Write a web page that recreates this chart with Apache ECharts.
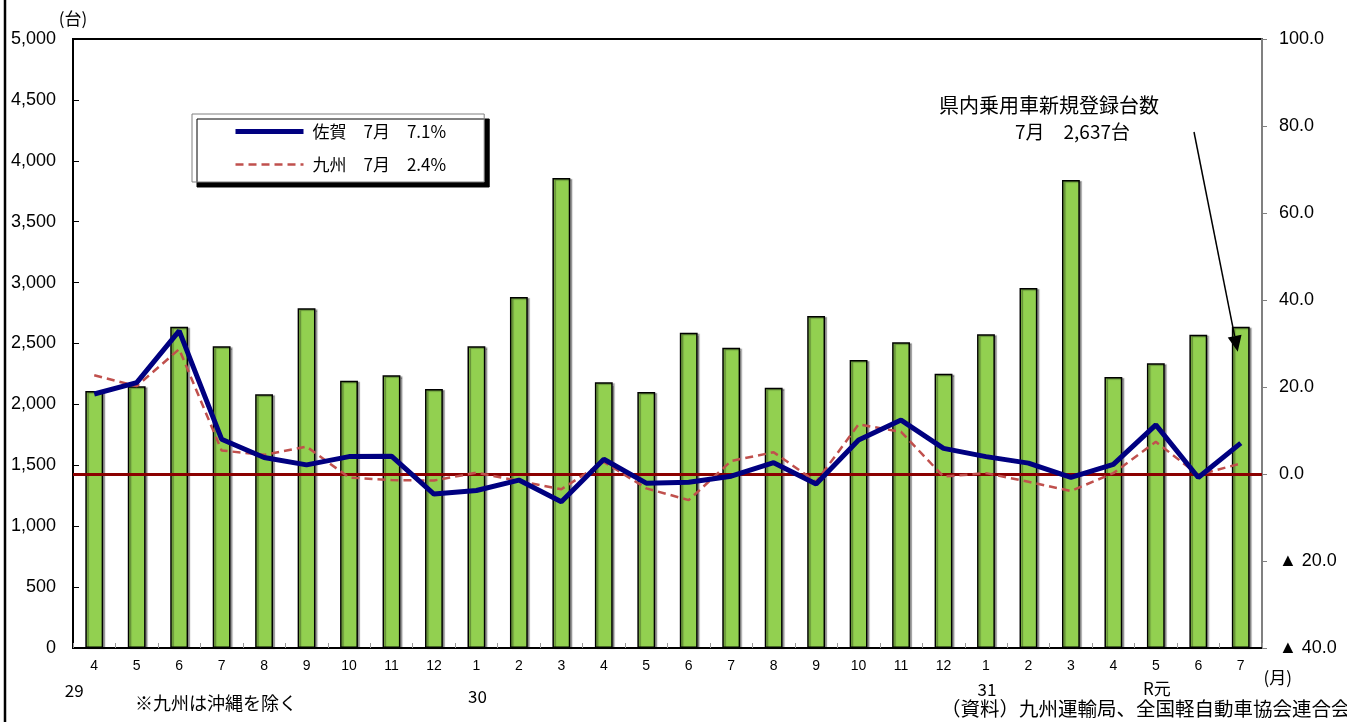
<!DOCTYPE html>
<html>
<head>
<meta charset="utf-8">
<title>県内乗用車新規登録台数</title>
<script src="https://cdn.jsdelivr.net/npm/echarts@6/dist/echarts.min.js"></script>
<style>
  html, body { margin: 0; padding: 0; background: #fff; }
  #chart { width: 1347px; height: 722px; }
</style>
</head>
<body>
<div id="chart"></div>
<script>
// Months from H29.4 to R1.7
const months = ['4','5','6','7','8','9','10','11','12','1','2','3','4','5','6','7','8','9','10','11','12','1','2','3','4','5','6','7'];
// Passenger car new registrations in the prefecture (units)
const registrations = [2110,2150,2638,2477,2083,2789,2195,2239,2126,2477,2882,3859,2181,2102,2589,2466,2137,2726,2365,2510,2252,2575,2956,3842,2225,2337,2572,2637];
// Year-on-year change (%), Saga
const sagaYoY = [18.4,21.0,32.9,8.0,3.8,2.1,4.0,4.1,-4.6,-3.8,-1.4,-6.4,3.4,-2.1,-1.9,-0.5,2.6,-2.3,7.8,12.4,5.9,4.0,2.5,-0.8,2.2,11.3,-0.8,7.1];
// Year-on-year change (%), Kyushu (excluding Okinawa)
const kyushuYoY = [22.7,20.2,28.7,5.4,4.4,6.3,-0.8,-1.4,-1.5,0.3,-1.6,-3.5,2.8,-3.3,-6.0,3.0,5.0,-1.8,11.4,9.7,-0.6,0.2,-1.8,-3.9,0.2,7.4,-0.2,2.4];
// Era-year labels and the month index where each year starts
const yearLabels = ['29','30','31','R元'];
const yearStartIdx = [0, 9, 21, 25];
// Tick labels for the axes
const leftTicks = [0, 500, 1000, 1500, 2000, 2500, 3000, 3500, 4000, 4500, 5000];
const rightTicks = [-40, -20, 0, 20, 40, 60, 80, 100];

const NUM_FONT = '"Liberation Sans", Arial, sans-serif';
const JP_FONT = '"Noto Sans CJK JP", "Noto Sans", sans-serif';

const last = months.length - 1;
const lastMonth = months[last] + '月';
const legendText = {
  '佐賀': '佐賀　' + lastMonth + '　' + sagaYoY[last].toFixed(1) + '%',
  '九州': '九州　' + lastMonth + '　' + kyushuYoY[last].toFixed(1) + '%'
};

const SAGA_LINE = { color: '#000080', width: 5, type: 'solid' };
const KYUSHU_LINE = { color: '#C0504D', width: 2.5, type: [8, 5] };

const chart = echarts.init(document.getElementById('chart'), null, { renderer: 'canvas' });

const option = {
  animation: false,
  backgroundColor: '#ffffff',
  grid: {
    left: 73, right: 85, top: 39, bottom: 74,
    show: true, borderColor: '#000', borderWidth: 2, backgroundColor: 'transparent'
  },
  legend: {
    orient: 'vertical',
    left: 192, top: 114,
    data: [
      { name: '佐賀', lineStyle: SAGA_LINE },
      { name: '九州', lineStyle: KYUSHU_LINE }
    ],
    itemWidth: 68, itemHeight: 14, itemGap: 16,
    padding: [9, 38, 9, 41],
    backgroundColor: '#fff',
    borderColor: '#808080', borderWidth: 1, borderRadius: 0,
    shadowColor: '#000', shadowBlur: 0, shadowOffsetX: 5, shadowOffsetY: 5,
    // line-only legend keys: hide the marker drawn on top of the line
    itemStyle: { opacity: 0, borderWidth: 0 },
    formatter: name => legendText[name],
    textStyle: { fontFamily: JP_FONT, fontSize: 17, color: '#000', padding: [0, 0, 0, 4] }
  },
  xAxis: {
    type: 'category',
    data: months,
    boundaryGap: true,
    axisLine: { lineStyle: { color: '#000', width: 2 } },
    axisTick: { show: true, inside: true, length: 5, interval: 0, lineStyle: { color: '#999', width: 1 } },
    axisLabel: { interval: 0, margin: 11, fontSize: 14, color: '#000', fontFamily: NUM_FONT },
    splitLine: { show: false }
  },
  yAxis: [
    {
      type: 'value',
      min: leftTicks[0], max: leftTicks[leftTicks.length - 1], interval: leftTicks[1] - leftTicks[0],
      name: '(台)',
      nameLocation: 'end',
      nameGap: 12,
      nameTextStyle: { fontFamily: JP_FONT, fontSize: 17, color: '#000', align: 'center' },
      axisLine: { show: true, lineStyle: { color: '#000', width: 2 } },
      axisTick: { show: true, inside: true, length: 6, lineStyle: { color: '#000', width: 1 } },
      axisLabel: {
        margin: 17, fontSize: 18, color: '#000', fontFamily: NUM_FONT,
        formatter: v => v.toLocaleString('en-US')
      },
      splitLine: { show: false }
    },
    {
      type: 'value',
      position: 'right',
      min: rightTicks[0], max: rightTicks[rightTicks.length - 1], interval: rightTicks[1] - rightTicks[0],
      axisLine: { show: true, lineStyle: { color: '#808080', width: 2 } },
      axisTick: { show: true, inside: false, length: 5, lineStyle: { color: '#808080', width: 1 } },
      axisLabel: {
        margin: 17, fontSize: 18, color: '#000', fontFamily: NUM_FONT,
        formatter: v => (v < 0 ? '▲ ' + Math.abs(v).toFixed(1) : v.toFixed(1))
      },
      splitLine: { show: false }
    }
  ],
  series: [
    {
      name: '登録台数',
      type: 'bar',
      yAxisIndex: 0,
      data: registrations,
      barWidth: '42%',
      z: 2,
      itemStyle: {
        color: '#92D050', borderColor: '#000', borderWidth: 1.5,
        shadowColor: 'rgba(0,0,0,0.35)', shadowBlur: 1, shadowOffsetX: 2, shadowOffsetY: 1
      }
    },
    {
      name: '九州',
      type: 'line',
      yAxisIndex: 1,
      data: kyushuYoY,
      showSymbol: false,
      symbol: 'none',
      z: 4,
      lineStyle: KYUSHU_LINE,
      itemStyle: { color: KYUSHU_LINE.color },
      markLine: {
        silent: true,
        symbol: 'none',
        label: { show: false },
        lineStyle: { color: '#8B0000', width: 3, type: 'solid' },
        data: [{ yAxis: 0 }],
        z: 3
      }
    },
    {
      name: '佐賀',
      type: 'line',
      yAxisIndex: 1,
      data: sagaYoY,
      showSymbol: false,
      symbol: 'none',
      z: 5,
      lineStyle: SAGA_LINE,
      itemStyle: { color: SAGA_LINE.color }
    }
  ]
};

chart.setOption(option);

// Annotations placed relative to the axes
function drawAnnotations() {
  const px = (i, v) => chart.convertToPixel({ seriesIndex: 0 }, [i, v]);
  const axisY = px(0, 0)[1];
  const els = [];

  // outer frame edge on the left
  els.push({
    type: 'line', z: 10,
    shape: { x1: 5, y1: 0, x2: 5, y2: 722 },
    style: { stroke: '#000', lineWidth: 2.5 }
  });

  // era-year labels under the month axis
  const yearOffsets = [[-20, 43], [1, 49], [1, 42], [1, 41]];
  yearLabels.forEach((t, k) => {
    const x = px(yearStartIdx[k], 0)[0];
    els.push({
      type: 'text', z: 10,
      x: x + yearOffsets[k][0], y: axisY + yearOffsets[k][1],
      style: { text: t, fill: '#000', font: '17px ' + JP_FONT, textAlign: 'center', textVerticalAlign: 'middle' }
    });
  });

  // month unit label
  const xLast = px(last, 0)[0];
  els.push({
    type: 'text', z: 10,
    x: xLast + 37, y: axisY + 30,
    style: { text: '(月)', fill: '#000', font: '17px ' + JP_FONT, textAlign: 'center', textVerticalAlign: 'middle' }
  });

  // footnotes
  els.push({
    type: 'text', z: 10, x: 135, y: 703,
    style: { text: '※九州は沖縄を除く', fill: '#000', font: '18px ' + JP_FONT, textAlign: 'left', textVerticalAlign: 'middle' }
  });
  els.push({
    type: 'text', z: 10, x: 941, y: 709,
    style: { text: '（資料）九州運輸局、全国軽自動車協会連合会', fill: '#000', font: '19.5px ' + JP_FONT, textAlign: 'left', textVerticalAlign: 'middle' }
  });

  // callout for the latest month
  els.push({
    type: 'text', z: 10, x: 1049, y: 105,
    style: { text: '県内乗用車新規登録台数', fill: '#000', font: '20px ' + JP_FONT, textAlign: 'center', textVerticalAlign: 'middle' }
  });
  els.push({
    type: 'text', z: 10, x: 1130, y: 132,
    style: {
      text: lastMonth + '　' + registrations[last].toLocaleString('en-US') + '台',
      fill: '#000', font: '19px ' + JP_FONT, textAlign: 'right', textVerticalAlign: 'middle'
    }
  });

  // arrow pointing into the latest bar
  const top = px(last, registrations[last]);
  const tip = [top[0] - 3, top[1] + 25];
  const start = [1194, 132];
  const dx = tip[0] - start[0], dy = tip[1] - start[1];
  const len = Math.sqrt(dx * dx + dy * dy);
  const ux = dx / len, uy = dy / len;
  const headLen = 16, headHalf = 7;
  const base = [tip[0] - ux * headLen, tip[1] - uy * headLen];
  els.push({
    type: 'line', z: 10,
    shape: { x1: start[0], y1: start[1], x2: base[0], y2: base[1] },
    style: { stroke: '#000', lineWidth: 1.5 }
  });
  els.push({
    type: 'polygon', z: 10,
    shape: { points: [tip, [base[0] - uy * headHalf, base[1] + ux * headHalf], [base[0] + uy * headHalf, base[1] - ux * headHalf]] },
    style: { fill: '#000' }
  });

  chart.setOption({ graphic: { elements: els } });
}

drawAnnotations();
</script>
</body>
</html>
